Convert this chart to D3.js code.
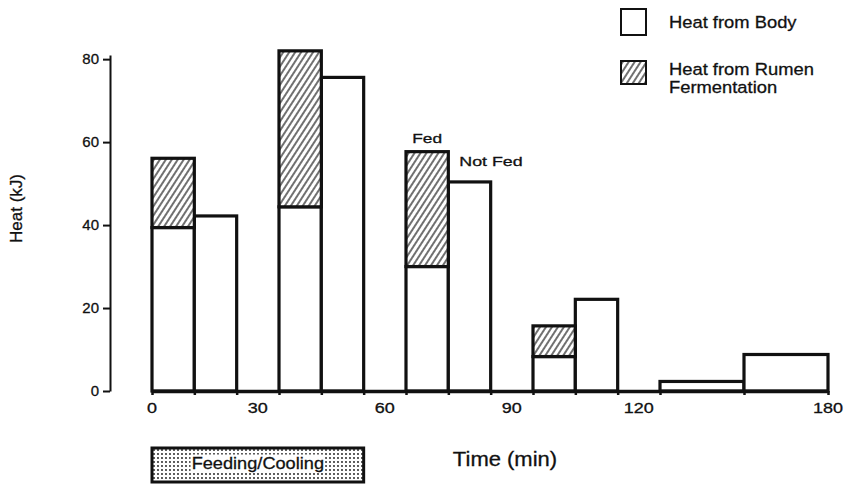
<!DOCTYPE html>
<html>
<head>
<meta charset="utf-8">
<script src="https://cdn.jsdelivr.net/npm/d3@7"></script>
<style>
body { margin: 0; background: #fff; }
text { font-family: "Liberation Sans", Arial, sans-serif; fill: #111; stroke: #111; stroke-width: 0.3; }
</style>
</head>
<body>
<svg id="chart" width="851" height="485"></svg>
<script>
// time bins in minutes, pairs of fed / not fed
var binStart = [0, 10, 30, 40, 60, 70, 90, 100, 120, 150];
var binEnd   = [10, 20, 40, 50, 70, 80, 100, 110, 150, 180];
var bodyHeat  = [39.4, 42.2, 44.4, 75.6, 30.0, 50.4, 8.3, 22.1, 2.3, 8.8];
var rumenHeat = [16.7, 0, 37.6, 0, 27.7, 0, 7.4, 0, 0, 0];

var yTicks = [0, 20, 40, 60, 80];
var xTickMarks = [0, 10, 20, 30, 40, 50, 60, 70, 80, 90, 100, 110, 120, 150, 180];
var xTickLabels = ["0", "30", "60", "90", "120", "180"];
var xLabelAt = [0, 25, 55, 85, 115, 180]; // label spots as printed in the original
var feedingPeriod = [0, 50];

var legendItems = [
    {lines: ["Heat from Body"], fill: "#fff"},
    {lines: ["Heat from Rumen", "Fermentation"], fill: "url(#hatch)"}
];

var svg = d3.select("#chart");

// broken time axis: 0-120 in 10 min steps, then 120-180 squeezed
var xScale = d3.scaleLinear()
    .domain([0, 120, 180])
    .range([152, 660, 828]);

var yScale = d3.scaleLinear()
    .domain([0, 81])
    .range([391, 55]);

var defs = svg.append("defs");

var hatch = defs.append("pattern")
    .attr("id", "hatch")
    .attr("patternUnits", "userSpaceOnUse")
    .attr("width", 5)
    .attr("height", 10)
    .attr("patternTransform", "rotate(33)");
hatch.append("rect").attr("width", 5).attr("height", 10).attr("fill", "#fff");
hatch.append("line")
    .attr("x1", 1).attr("y1", 0).attr("x2", 1).attr("y2", 10)
    .attr("stroke", "#111").attr("stroke-width", 1.2);

var dots = defs.append("pattern")
    .attr("id", "dots")
    .attr("patternUnits", "userSpaceOnUse")
    .attr("width", 4)
    .attr("height", 4);
dots.append("rect").attr("width", 4).attr("height", 4).attr("fill", "#fff");
dots.append("circle").attr("cx", 2).attr("cy", 2).attr("r", 0.9).attr("fill", "#111");

// stretched text, the print uses a wide face
function label(parent, str, x, y, size, sx, anchor) {
    return parent.append("text")
        .attr("transform", "translate(" + x + "," + y + ") scale(" + sx + ",1)")
        .attr("text-anchor", anchor || "start")
        .style("font-size", size + "px")
        .text(str);
}

var bins = binStart.map(function(s, i) {
    return {start: s, end: binEnd[i], body: bodyHeat[i], rumen: rumenHeat[i]};
});

// body part
svg.append("g").selectAll("rect")
    .data(bins)
    .enter()
    .append("rect")
    .attr("x", function(d) { return xScale(d.start); })
    .attr("y", function(d) { return yScale(d.body); })
    .attr("width", function(d) { return xScale(d.end) - xScale(d.start); })
    .attr("height", function(d) { return yScale(0) - yScale(d.body); })
    .attr("fill", "#fff")
    .attr("stroke", "#111")
    .attr("stroke-width", 3.2);

// rumen part on top
svg.append("g").selectAll("rect")
    .data(bins.filter(function(d) { return d.rumen > 0; }))
    .enter()
    .append("rect")
    .attr("x", function(d) { return xScale(d.start); })
    .attr("y", function(d) { return yScale(d.body + d.rumen); })
    .attr("width", function(d) { return xScale(d.end) - xScale(d.start); })
    .attr("height", function(d) { return yScale(d.body) - yScale(d.body + d.rumen); })
    .attr("fill", "url(#hatch)")
    .attr("stroke", "#111")
    .attr("stroke-width", 3.2);

// axes
var xAxis = d3.axisBottom(xScale)
    .tickValues(xTickMarks)
    .tickSize(4)
    .tickSizeOuter(0)
    .tickFormat("");
var gx = svg.append("g")
    .attr("transform", "translate(0," + yScale(0) + ")")
    .call(xAxis);
gx.select(".domain").attr("stroke", "#111").attr("stroke-width", 3.5);
gx.selectAll(".tick line").attr("stroke", "#111").attr("stroke-width", 2.5);

svg.append("g").selectAll("text")
    .data(xTickLabels)
    .enter()
    .append("text")
    .attr("transform", function(d, i) {
        return "translate(" + xScale(xLabelAt[i]) + ",413) scale(1.2,1)";
    })
    .attr("text-anchor", "middle")
    .style("font-size", "15px")
    .text(function(d) { return d; });

var yAxis = d3.axisLeft(yScale)
    .tickValues(yTicks)
    .tickSize(7)
    .tickPadding(4)
    .tickSizeOuter(0);
var gy = svg.append("g")
    .attr("transform", "translate(110,0)")
    .call(yAxis);
gy.select(".domain").attr("stroke", "#111").attr("stroke-width", 2);
gy.selectAll(".tick line").attr("stroke", "#111").attr("stroke-width", 2);
gy.selectAll(".tick text")
    .attr("fill", "#111")
    .style("font-family", "'Liberation Sans', Arial, sans-serif")
    .style("font-size", "15px");

// axis titles
svg.append("text")
    .attr("transform", "translate(16," + yScale(44) + ") rotate(-90)")
    .attr("text-anchor", "middle")
    .attr("dy", "0.35em")
    .style("font-size", "17px")
    .text("Heat (kJ)");

label(svg, "Time (min)", 505, 466, 20, 1.1, "middle");

// Fed / Not Fed notes on the third pair
label(svg, "Fed", xScale(65), yScale(bodyHeat[4] + rumenHeat[4]) - 9, 13.5, 1.28, "middle");
label(svg, "Not Fed", xScale(70) + 11, yScale(bodyHeat[5]) - 16, 13.5, 1.32, "start");

// feeding / cooling period box
svg.append("rect")
    .attr("x", xScale(feedingPeriod[0]))
    .attr("y", 448)
    .attr("width", xScale(feedingPeriod[1]) - xScale(feedingPeriod[0]))
    .attr("height", 34)
    .attr("fill", "url(#dots)")
    .attr("stroke", "#111")
    .attr("stroke-width", 3);
var fg = svg.append("g")
    .attr("transform", "translate(" + xScale(25) + ",469) scale(1.07,1)");
var fbg = fg.append("rect").attr("fill", "#fff");
var ft = fg.append("text")
    .attr("text-anchor", "middle")
    .style("font-size", "17px")
    .text("Feeding/Cooling");
var bb = ft.node().getBBox();
fbg.attr("x", bb.x - 1).attr("y", bb.y + 1).attr("width", bb.width + 2).attr("height", bb.height - 2);

// legend
var legend = svg.append("g");
legendItems.forEach(function(item, i) {
    var top = i == 0 ? 9 : 61;
    legend.append("rect")
        .attr("x", 621).attr("y", top)
        .attr("width", 25).attr("height", i == 0 ? 26 : 23)
        .attr("fill", item.fill)
        .attr("stroke", "#111")
        .attr("stroke-width", 2);
    item.lines.forEach(function(line, j) {
        label(legend, line, 669, (i == 0 ? 28 : 75) + j * 18, 17, 1.08, "start");
    });
});
</script>
</body>
</html>
